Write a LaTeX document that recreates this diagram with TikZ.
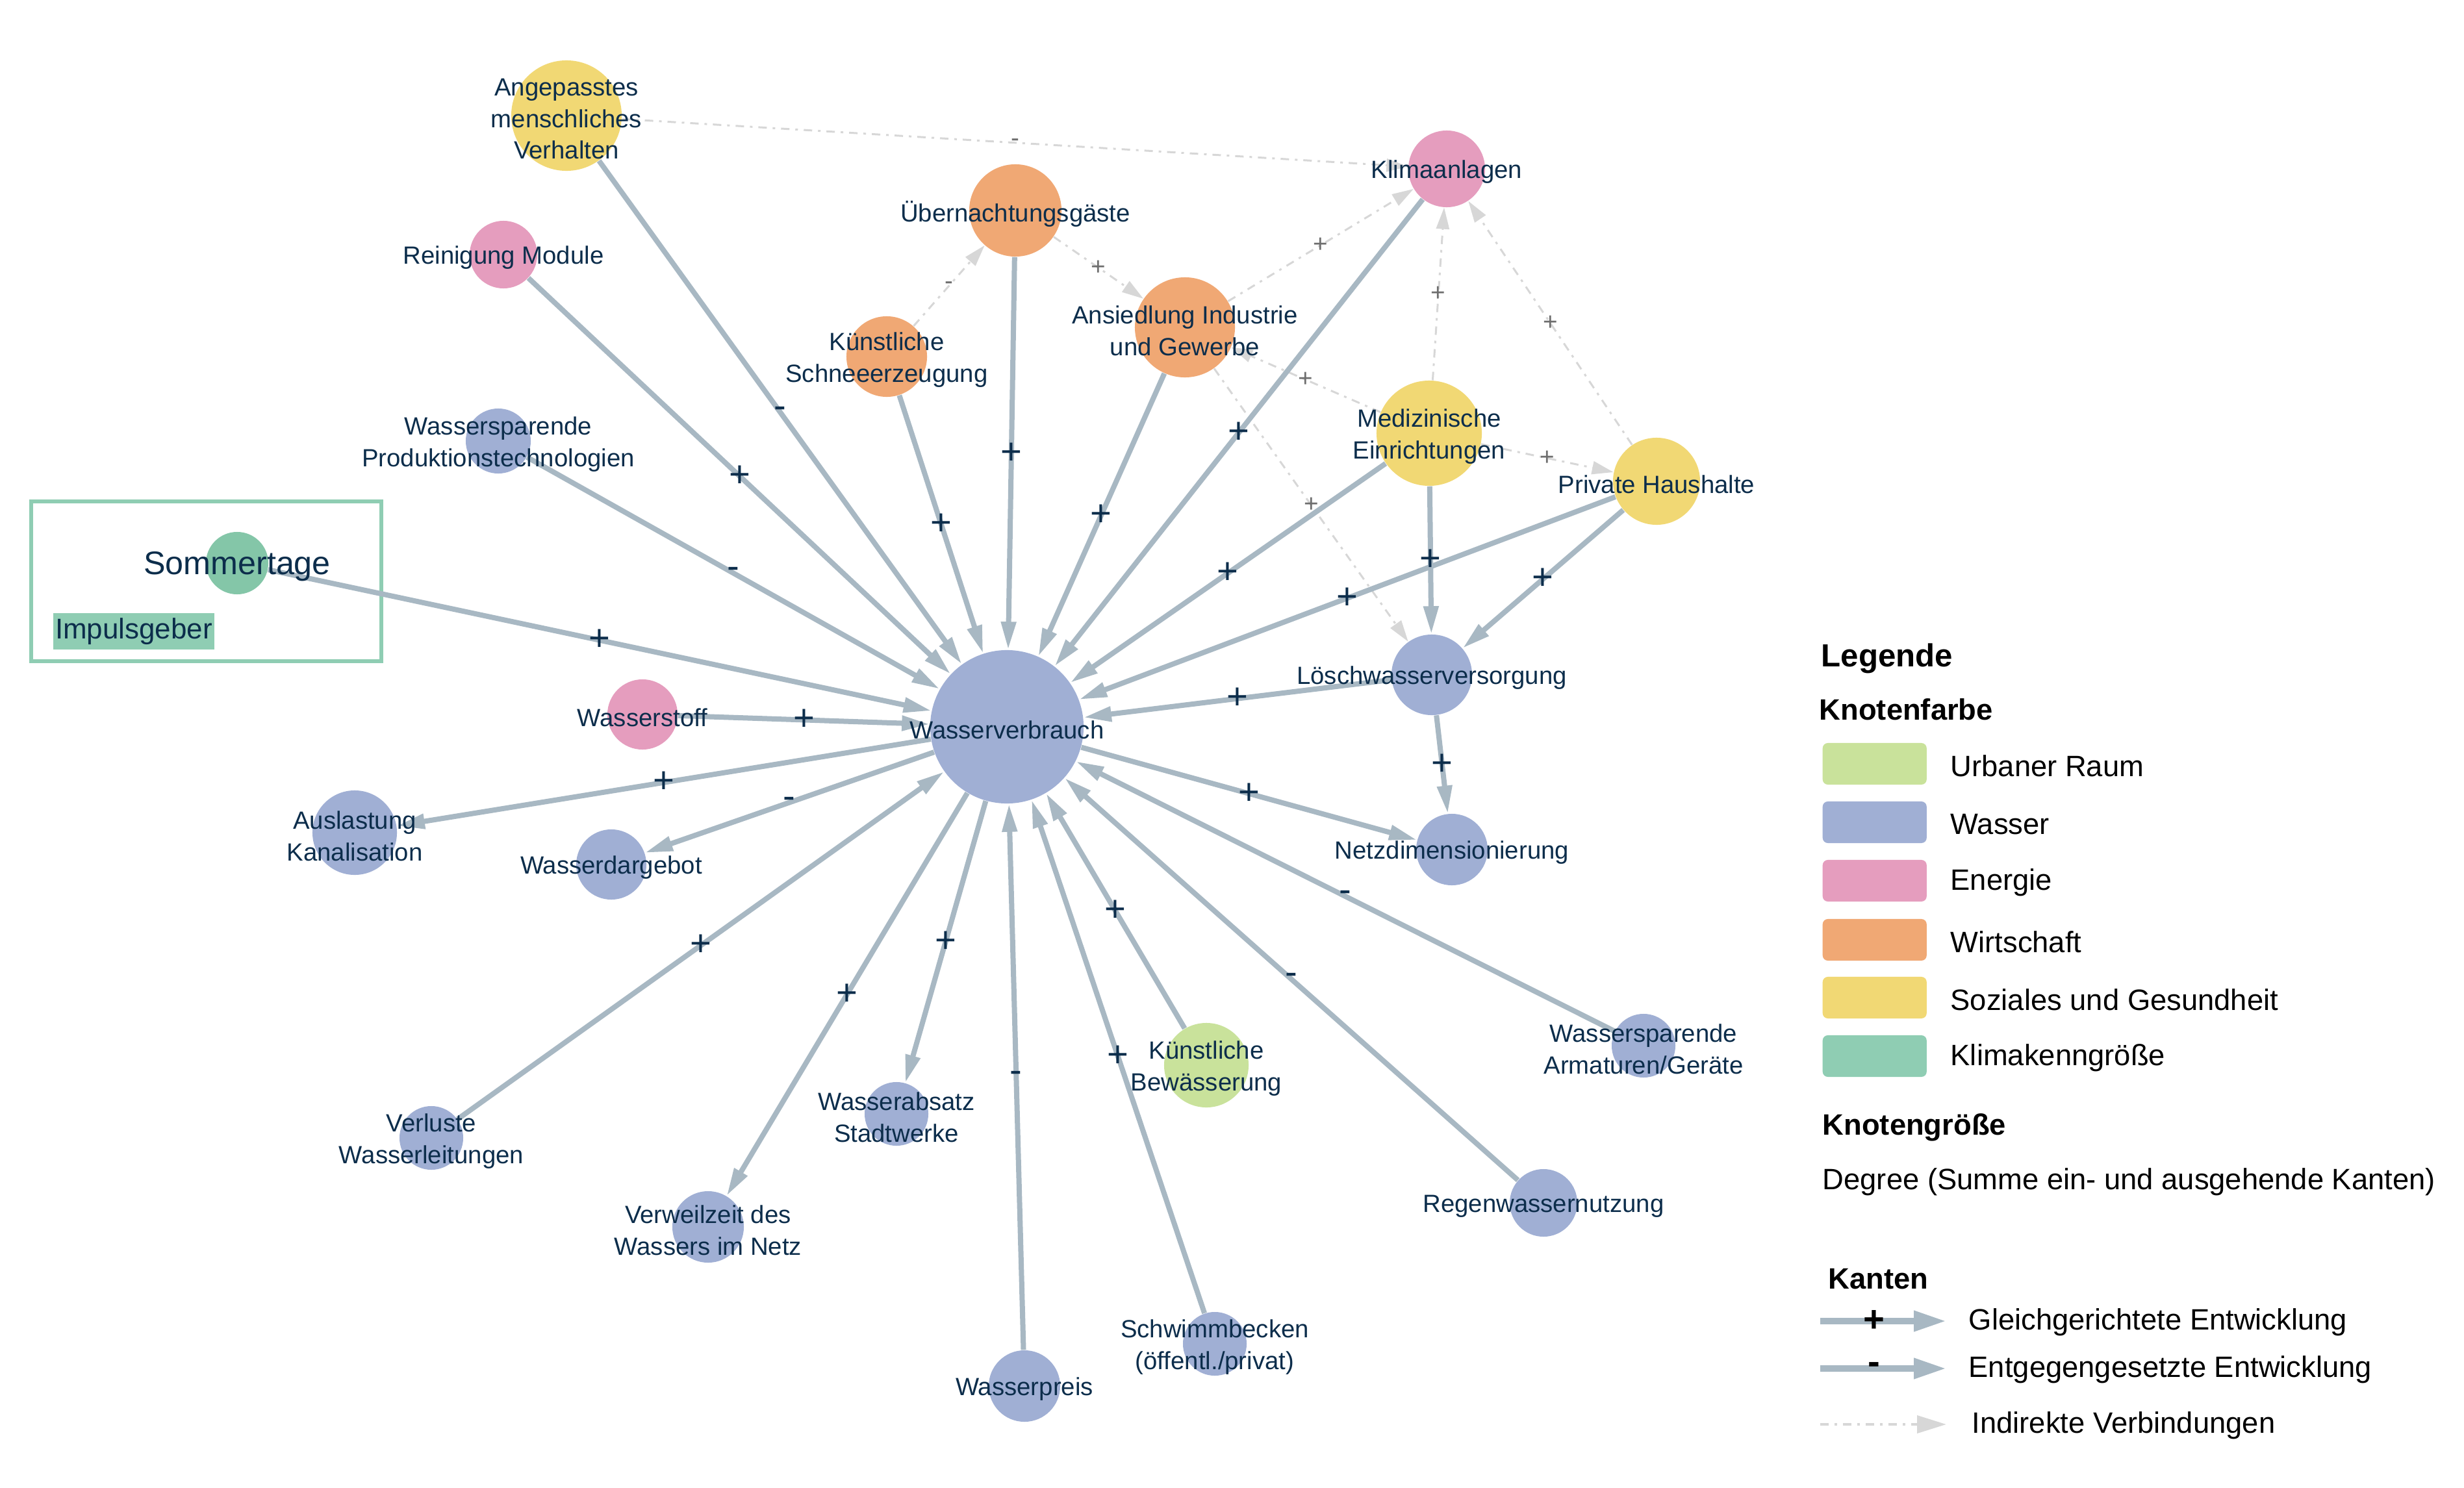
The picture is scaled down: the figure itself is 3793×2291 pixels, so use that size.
\documentclass[tikz,border=0pt]{standalone}
\usepackage{fontspec}
\setmainfont{Liberation Sans}
\usetikzlibrary{arrows.meta}
\definecolor{txt}{RGB}{12,45,75}
\definecolor{edgec}{RGB}{168,184,195}
\definecolor{dgray}{RGB}{215,215,215}
\definecolor{glab}{RGB}{110,110,110}
\definecolor{cwasser}{RGB}{160,175,212}
\definecolor{cenergie}{RGB}{229,157,190}
\definecolor{cwirt}{RGB}{240,168,116}
\definecolor{csoz}{RGB}{241,216,116}
\definecolor{curban}{RGB}{201,226,155}
\definecolor{cklima}{RGB}{143,205,179}
\definecolor{cklimanode}{RGB}{132,198,168}
\begin{document}
\begin{tikzpicture}[x=0.01cm,y=-0.01cm,
  nd/.style={circle,inner sep=0pt,draw=none,minimum size=#1},
  lbl/.style={font=\fontsize{10.9}{13.9}\selectfont,text=txt,align=center,inner sep=0pt,yshift=-0.05cm},
  pe/.style={draw=edgec,line width=0.08cm,-{Triangle[length=0.43cm,width=0.22cm]}},
  ie/.style={draw=dgray,line width=0.03cm,dash pattern=on 0.13cm off 0.09cm on 0.04cm off 0.09cm,-{Triangle[length=0.33cm,width=0.2cm]}},
  sg/.style={font=\fontsize{16}{16}\selectfont,text=txt,inner sep=0pt},
  gs/.style={font=\fontsize{11}{11}\selectfont,text=glab,inner sep=0pt},
  leg/.style={font=\fontsize{12.9}{15}\selectfont,text=black,anchor=west,inner sep=0pt},
  legh/.style={font=\bfseries\fontsize{12.9}{15}\selectfont,text=black,anchor=west,inner sep=0pt},
  sw/.style={rounded corners=0.08cm,minimum width=1.6cm,minimum height=0.64cm,inner sep=0pt,anchor=west}
]
\useasboundingbox (0,0) rectangle (3793,2291);

% Impulsgeber box
\node (ibox) [draw=cklima,line width=0.065cm,minimum width=5.39cm,minimum height=2.46cm,inner sep=0pt] at (317.5,895) {};
\node (imp) [fill=cklima,text=txt,font=\fontsize{12.5}{14}\selectfont,minimum width=2.48cm,minimum height=0.55cm,inner sep=0pt] at (206,972) {Impulsgeber};

% nodes
\node (wv) [nd=2.36cm,fill=cwasser] at (1550,1119) {};
\node (ang) [nd=1.70cm,fill=csoz] at (872,178) {};
\node (rein) [nd=1.04cm,fill=cenergie] at (775,392) {};
\node (wpt) [nd=1.00cm,fill=cwasser] at (767,679) {};
\node (som) [nd=0.96cm,fill=cklimanode] at (365,867) {};
\node (kschnee) [nd=1.24cm,fill=cwirt] at (1365,549) {};
\node (uebern) [nd=1.42cm,fill=cwirt] at (1563,324) {};
\node (ansied) [nd=1.54cm,fill=cwirt] at (1824,504) {};
\node (klima) [nd=1.18cm,fill=cenergie] at (2227,260) {};
\node (med) [nd=1.62cm,fill=csoz] at (2200,667) {};
\node (ph) [nd=1.34cm,fill=csoz] at (2550,741) {};
\node (loesch) [nd=1.24cm,fill=cwasser] at (2204,1039) {};
\node (netz) [nd=1.10cm,fill=cwasser] at (2235,1308) {};
\node (wstoff) [nd=1.08cm,fill=cenergie] at (989,1100) {};
\node (ausl) [nd=1.30cm,fill=cwasser] at (546,1282) {};
\node (darg) [nd=1.08cm,fill=cwasser] at (941,1331) {};
\node (verl) [nd=0.98cm,fill=cwasser] at (664,1752) {};
\node (verw) [nd=1.10cm,fill=cwasser] at (1090,1889) {};
\node (absatz) [nd=0.98cm,fill=cwasser] at (1380,1715) {};
\node (preis) [nd=1.10cm,fill=cwasser] at (1577,2134) {};
\node (schwimm) [nd=0.98cm,fill=cwasser] at (1870,2069) {};
\node (kbew) [nd=1.30cm,fill=curban] at (1857,1640) {};
\node (regen) [nd=1.04cm,fill=cwasser] at (2376,1852) {};
\node (armat) [nd=0.98cm,fill=cwasser] at (2530,1610) {};

% indirect edges
\draw[ie] (ang) -- node[gs]{-} (klima);
\draw[ie] (kschnee) -- node[gs]{-} (uebern);
\draw[ie] (uebern) -- node[gs]{+} (ansied);
\draw[ie] (ansied) -- node[gs]{+} (klima);
\draw[ie] (med) -- node[gs]{+} (klima);
\draw[ie] (ph) -- node[gs]{+} (klima);
\draw[ie] (med) -- node[gs]{+} (ansied);
\draw[ie] (ansied) -- node[gs]{+} (loesch);
\draw[ie] (med) -- node[gs]{+} (ph);

% direct edges
\draw[pe] (ang) -- node[sg]{-} (wv);
\draw[pe] (rein) -- node[sg]{+} (wv);
\draw[pe] (wpt) -- node[sg]{-} (wv);
\draw[pe] (som) -- node[sg]{+} (wv);
\draw[pe] (kschnee) -- node[sg]{+} (wv);
\draw[pe] (uebern) -- node[sg]{+} (wv);
\draw[pe] (ansied) -- node[sg]{+} (wv);
\draw[pe] (klima) -- node[sg]{+} (wv);
\draw[pe] (med) -- node[sg]{+} (wv);
\draw[pe] (ph) -- node[sg]{+} (wv);
\draw[pe] (med) -- node[sg]{+} (loesch);
\draw[pe] (ph) -- node[sg]{+} (loesch);
\draw[pe] (loesch) -- node[sg]{+} (wv);
\draw[pe] (loesch) -- node[sg]{+} (netz);
\draw[pe] (wstoff) -- node[sg]{+} (wv);
\draw[pe] (wv) -- node[sg]{+} (ausl);
\draw[pe] (wv) -- node[sg]{-} (darg);
\draw[pe] (verl) -- node[sg]{+} (wv);
\draw[pe] (wv) -- node[sg]{+} (verw);
\draw[pe] (wv) -- node[sg]{+} (absatz);
\draw[pe] (preis) -- node[sg]{-} (wv);
\draw[pe] (schwimm) -- node[sg]{+} (wv);
\draw[pe] (kbew) -- node[sg]{+} (wv);
\draw[pe] (regen) -- node[sg]{-} (wv);
\draw[pe] (armat) -- node[sg]{-} (wv);
\draw[pe] (wv) -- node[sg]{+} (netz);

% labels
\node[lbl] at (wv) {Wasserverbrauch};
\node[lbl] at (ang) {Angepasstes\\menschliches\\Verhalten};
\node[lbl] at (rein) {Reinigung Module};
\node[lbl] at (wpt) {Wassersparende\\Produktionstechnologien};
\node[lbl,font=\fontsize{14.3}{16}\selectfont] at (som) {Sommertage};
\node[lbl] at (kschnee) {Künstliche\\Schneeerzeugung};
\node[lbl] at (uebern) {Übernachtungsgäste};
\node[lbl] at (ansied) {Ansiedlung Industrie\\und Gewerbe};
\node[lbl] at (klima) {Klimaanlagen};
\node[lbl] at (med) {Medizinische\\Einrichtungen};
\node[lbl] at (ph) {Private Haushalte};
\node[lbl] at (loesch) {Löschwasserversorgung};
\node[lbl] at (netz) {Netzdimensionierung};
\node[lbl] at (wstoff) {Wasserstoff};
\node[lbl] at (ausl) {Auslastung\\Kanalisation};
\node[lbl] at (darg) {Wasserdargebot};
\node[lbl] at (verl) {Verluste\\Wasserleitungen};
\node[lbl] at (verw) {Verweilzeit des\\Wassers im Netz};
\node[lbl] at (absatz) {Wasserabsatz\\Stadtwerke};
\node[lbl] at (preis) {Wasserpreis};
\node[lbl] at (schwimm) {Schwimmbecken\\(öffentl./privat)};
\node[lbl] at (kbew) {Künstliche\\Bewässerung};
\node[lbl] at (regen) {Regenwassernutzung};
\node[lbl] at (armat) {Wassersparende\\Armaturen/Geräte};

% legend
\node[legh,font=\bfseries\fontsize{14}{16}\selectfont] (lgtitle) at (2803,1014) {Legende};
\node[legh] (lgfarbe) at (2800,1092) {Knotenfarbe};
\node[sw,fill=curban] (s1) at (2805,1176) {};
\node[sw,fill=cwasser] (s2) at (2805,1266) {};
\node[sw,fill=cenergie] (s3) at (2805,1356) {};
\node[sw,fill=cwirt] (s4) at (2805,1447) {};
\node[sw,fill=csoz] (s5) at (2805,1536) {};
\node[sw,fill=cklima] (s6) at (2805,1626) {};
\node[leg] (t1) at (3002,1179) {Urbaner Raum};
\node[leg] (t2) at (3002,1269) {Wasser};
\node[leg] (t3) at (3002,1359) {Energie};
\node[leg] (t4) at (3002,1450) {Wirtschaft};
\node[leg] (t5) at (3002,1539) {Soziales und Gesundheit};
\node[leg] (t6) at (3002,1629) {Klimakenngröße};
\node[legh] (lggroesse) at (2805,1736) {Knotengröße};
\node[leg] (lgdegree) at (2805,1820) {Degree (Summe ein- und ausgehende Kanten)};
\node[legh] (lgkanten) at (2814,1969) {Kanten};
\coordinate (la1) at (2802,2034);
\coordinate (lb1) at (2996,2034);
\coordinate (la2) at (2802,2107);
\coordinate (lb2) at (2996,2107);
\coordinate (la3) at (2802,2193);
\coordinate (lb3) at (2996,2193);
\draw[draw=edgec,line width=0.1cm,-{Triangle[length=0.5cm,width=0.3cm]}] (la1) -- (lb1);
\draw[draw=edgec,line width=0.1cm,-{Triangle[length=0.5cm,width=0.3cm]}] (la2) -- (lb2);
\draw[draw=dgray,line width=0.04cm,dash pattern=on 0.13cm off 0.09cm on 0.04cm off 0.09cm,-{Triangle[length=0.45cm,width=0.27cm]}] (la3) -- (lb3);
\node[font=\bfseries\fontsize{16}{16}\selectfont,inner sep=0pt] (lp) at (2885,2034) {+};
\node[font=\bfseries\fontsize{16}{16}\selectfont,inner sep=0pt] (lm) at (2885,2107) {-};
\node[leg] (lt1) at (3030,2036) {Gleichgerichtete Entwicklung};
\node[leg] (lt2) at (3030,2109) {Entgegengesetzte Entwicklung};
\node[leg] (lt3) at (3035,2195) {Indirekte Verbindungen};
\end{tikzpicture}
\end{document}
